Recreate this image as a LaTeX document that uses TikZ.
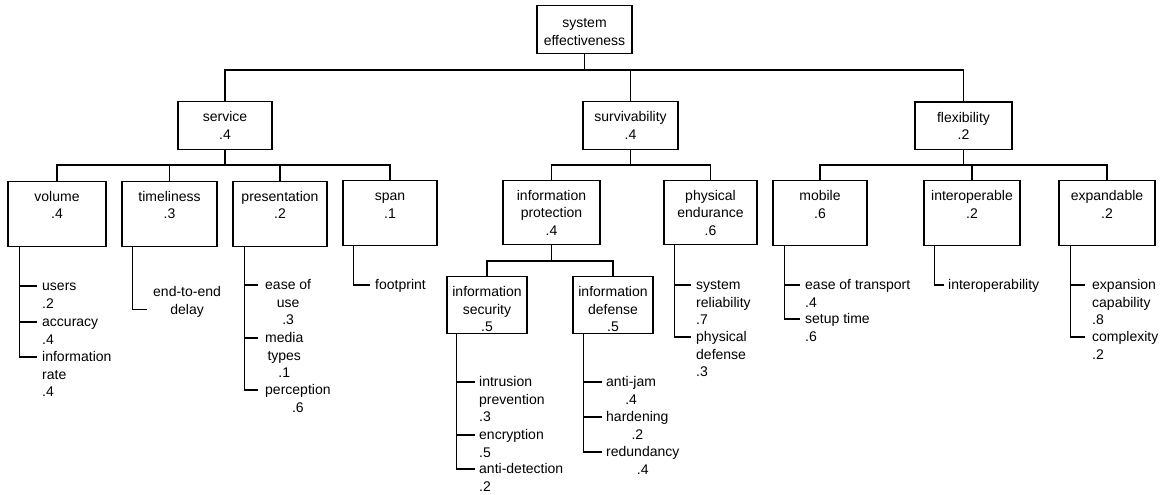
\documentclass[tikz,border=0pt]{standalone}
\usepackage{fontspec}
\setmainfont{Liberation Sans}
\newcommand\bt[4]{\parbox[t][#2][t]{#1}{\centering\vspace*{#3}\strut #4}}
\newcommand\lst[2]{\begin{tabular}[t]{@{}#1@{}}#2\end{tabular}}
\begin{document}
\begin{tikzpicture}[x=1pt,y=-1pt,
  every node/.style={font=\fontsize{14}{17.5}\selectfont},
  box/.style={draw, line width=1.1pt, inner sep=0pt, anchor=north},
  leaf/.style={inner sep=0pt, anchor=base west},
  conn/.style={line width=1.1pt}]
\useasboundingbox (0,0) rectangle (1163,495);
% level 0/1
\node[box] (root) at (584.5,5) {\bt{95pt}{48pt}{10pt}{system\\effectiveness}};
\node[box] (service) at (225,101) {\bt{94pt}{48pt}{8pt}{service\\.4}};
\node[box] (surv) at (630.5,101) {\bt{95pt}{48pt}{8pt}{survivability\\.4}};
\node[box] (flex) at (963.5,101.5) {\bt{97pt}{47.5pt}{8pt}{flexibility\\.2}};
% level 2
\node[box] (volume) at (57,180.5) {\bt{98pt}{65pt}{8pt}{volume\\.4}};
\node[box] (timeliness) at (169.5,180.5) {\bt{95pt}{65pt}{8pt}{timeliness\\.3}};
\node[box] (presentation) at (280,180.5) {\bt{94pt}{65pt}{8pt}{presentation\\.2}};
\node[box] (span) at (390,180) {\bt{94pt}{65pt}{8pt}{span\\.1}};
\node[box] (infoprot) at (551.5,180) {\bt{97pt}{64pt}{7.5pt}{information\\protection\\.4}};
\node[box] (phys) at (710.5,180) {\bt{93pt}{64pt}{7.5pt}{physical\\endurance\\.6}};
\node[box] (mobile) at (820,180) {\bt{94pt}{64.5pt}{8pt}{mobile\\.6}};
\node[box] (interop) at (972,180) {\bt{96pt}{65pt}{8pt}{interoperable\\.2}};
\node[box] (expand) at (1107,180) {\bt{96pt}{65pt}{8pt}{expandable\\.2}};
% level 3
\node[box] (infosec) at (487,276) {\bt{80pt}{57pt}{8pt}{information\\security\\.5}};
\node[box] (infodef) at (613,276) {\bt{80pt}{57pt}{8pt}{information\\defense\\.5}};
% buses
\coordinate (b0) at (0,70);
\coordinate (b1) at (0,165);
\coordinate (b2) at (0,261);
\draw[conn] (root.south) -- (root.south |- b0);
\draw[conn] (service.north) -- (service.north |- b0) -- (flex.north |- b0) -- (flex.north);
\draw[conn] (surv.north) -- (surv.north |- b0);
\draw[conn] (service.south) -- (service.south |- b1);
\draw[conn] (volume.north) -- (volume.north |- b1) -- (span.north |- b1) -- (span.north);
\draw[conn] (timeliness.north) -- (timeliness.north |- b1);
\draw[conn] (presentation.north) -- (presentation.north |- b1);
\draw[conn] (surv.south) -- (surv.south |- b1);
\draw[conn] (infoprot.north) -- (infoprot.north |- b1) -- (phys.north |- b1) -- (phys.north);
\draw[conn] (flex.south) -- (flex.south |- b1);
\draw[conn] (mobile.north) -- (mobile.north |- b1) -- (expand.north |- b1) -- (expand.north);
\draw[conn] (interop.north) -- (interop.north |- b1);
\draw[conn] (infoprot.south) -- (infoprot.south |- b2);
\draw[conn] (infosec.north) -- (infosec.north |- b2) -- (infodef.north |- b2) -- (infodef.north);
% leaves: volume
\node[leaf] (users) at (42,290.5) {\lst{l}{users\\.2}};
\node[leaf] (accuracy) at (42,326.5) {\lst{l}{accuracy\\.4}};
\node[leaf] (inforate) at (42,361.5) {\lst{l}{information\\rate\\.4}};
\foreach \n in {users,accuracy,inforate}
  \draw[conn] ([xshift=12pt]volume.south west) |- ([xshift=-5pt,yshift=4.5pt]\n.base west);
% timeliness
\node[leaf] (e2e) at (153,296.5) {\lst{c}{end-to-end\\delay}};
\draw[conn] ([xshift=11pt]timeliness.south west) |- ([xshift=-6pt,yshift=-13pt]e2e.base west);
% presentation
\node[leaf] (ease) at (265,289.5) {\lst{c}{ease of\\use\\.3}};
\node[leaf] (media) at (265,342.5) {\lst{c}{media\\types\\.1}};
\node[leaf] (perc) at (265,394.5) {\lst{c}{perception\\.6}};
\foreach \n in {ease,media,perc}
  \draw[conn] ([xshift=12pt]presentation.south west) |- ([xshift=-7pt,yshift=4.5pt]\n.base west);
% span
\node[leaf] (foot) at (375,289.5) {footprint};
\draw[conn] ([xshift=11pt]span.south west) |- ([xshift=-5pt,yshift=4.5pt]foot.base west);
% information security
\node[leaf] (intr) at (479,386.5) {\lst{l}{intrusion\\prevention\\.3}};
\node[leaf] (encr) at (479,439.5) {\lst{l}{encryption\\.5}};
\node[leaf] (antid) at (479,473.5) {\lst{l}{anti-detection\\.2}};
\foreach \n in {intr,encr,antid}
  \draw[conn] ([xshift=10pt]infosec.south west) |- ([xshift=-4pt,yshift=4.5pt]\n.base west);
% information defense
\node[leaf] (antijam) at (606,386.5) {\lst{c}{anti-jam\\.4}};
\node[leaf] (hard) at (606,421.5) {\lst{c}{hardening\\.2}};
\node[leaf] (redund) at (606,456.5) {\lst{c}{redundancy\\.4}};
\foreach \n in {antijam,hard,redund}
  \draw[conn] ([xshift=11pt]infodef.south west) |- ([xshift=-4pt,yshift=4.5pt]\n.base west);
% physical endurance
\node[leaf] (sysrel) at (696,289.5) {\lst{l}{system\\reliability\\.7}};
\node[leaf] (physdef) at (696,341.5) {\lst{l}{physical\\defense\\.3}};
\foreach \n in {sysrel,physdef}
  \draw[conn] ([xshift=11pt]phys.south west) |- ([xshift=-5pt,yshift=4.5pt]\n.base west);
% mobile
\node[leaf] (eot) at (805,289.5) {\lst{l}{ease of transport\\.4}};
\node[leaf] (setup) at (805,323.5) {\lst{l}{setup time\\.6}};
\foreach \n in {eot,setup}
  \draw[conn] ([xshift=12pt]mobile.south west) |- ([xshift=-5pt,yshift=4.5pt]\n.base west);
% interoperable
\node[leaf] (interopty) at (948,289.5) {interoperability};
\draw[conn] ([xshift=11pt]interop.south west) |- ([xshift=-4pt,yshift=4.5pt]interopty.base west);
% expandable
\node[leaf] (expcap) at (1092,289.5) {\lst{l}{expansion\\capability\\.8}};
\node[leaf] (complex) at (1092,341.5) {\lst{l}{complexity\\.2}};
\foreach \n in {expcap,complex}
  \draw[conn] ([xshift=12pt]expand.south west) |- ([xshift=-7pt,yshift=4.5pt]\n.base west);
\end{tikzpicture}
\end{document}
